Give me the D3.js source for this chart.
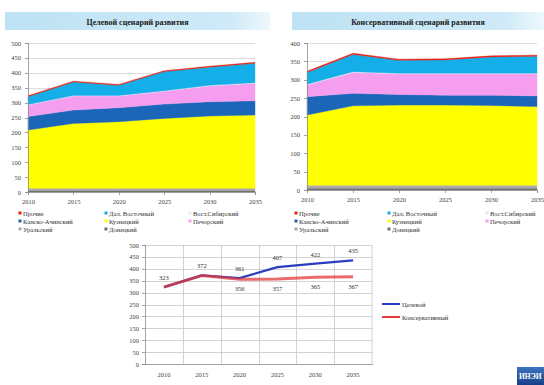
<!DOCTYPE html>
<html lang="ru">
<head>
<meta charset="UTF-8">
<title>Сценарии добычи угля</title>
<style>
  body { margin: 0; background: #fff; }
  svg { display: block; }
  text { font-family: "Liberation Serif", "DejaVu Serif", serif; fill: #333; }
  .axis path, .axis line { stroke: #8c8c8c; stroke-width: 0.8; shape-rendering: crispEdges; }
  .axis text { font-size: 6.5px; fill: #444; }
</style>
</head>
<body>
<script src="https://cdn.jsdelivr.net/npm/d3@7"></script>
<script>

var years = [2010, 2015, 2020, 2025, 2030, 2035];

// series, bottom of the stack first
var seriesNames = ["Донецкий", "Уральский", "Кузнецкий", "Канско-Ачинский",
                   "Печорский", "Вост.Сибирский", "Дал. Восточный", "Прочие"];
var seriesColors = ["#707070", "#a9a9a9", "#ffff00", "#1b66b8",
                    "#f59ef0", "#f1e2f4", "#14aee8", "#e2231a"];
// legend order as in the picture (row by row)
var legendOrder = ["Прочие", "Дал. Восточный", "Вост.Сибирский",
                   "Канско-Ачинский", "Кузнецкий", "Печорский",
                   "Уральский", "Донецкий"];

// target scenario, mln t
var targetDonetsk   = [5, 5, 5, 5, 5, 5];
var targetUral      = [8, 8, 8, 8, 8, 8];
var targetKuzbass   = [195, 217, 223, 234, 242, 245];
var targetKansk     = [45, 45, 47, 48, 48, 48];
var targetPechora   = [39, 47, 39, 43, 53, 59];
var targetEastSib   = [2, 2, 2, 2, 2, 2];
var targetFarEast   = [26, 45, 34, 64, 61, 65];
var targetOther     = [3, 3, 3, 3, 3, 3];

// conservative scenario, mln t
var consDonetsk     = [5, 5, 5, 5, 5, 5];
var consUral        = [8, 8, 8, 8, 8, 8];
var consKuzbass     = [191, 216, 218, 218, 217, 214];
var consKansk       = [50, 34, 29, 27, 28, 29];
var consPechora     = [32, 57, 56, 58, 58, 60];
var consEastSib     = [2, 2, 2, 2, 2, 2];
var consFarEast     = [32, 47, 35, 36, 44, 46];
var consOther       = [3, 3, 3, 3, 3, 3];

// totals for the line chart
var targetTotal     = [323, 372, 361, 407, 422, 435];
var consTotal       = [323, 372, 356, 357, 365, 367];

var targetSeries = [targetDonetsk, targetUral, targetKuzbass, targetKansk,
                    targetPechora, targetEastSib, targetFarEast, targetOther];
var consSeries   = [consDonetsk, consUral, consKuzbass, consKansk,
                    consPechora, consEastSib, consFarEast, consOther];

var width = 544, height = 385;

var svg = d3.select("body").append("svg")
    .attr("width", width)
    .attr("height", height);

var defs = svg.append("defs");
var grad = defs.append("linearGradient").attr("id", "band")
    .attr("x1", "0%").attr("x2", "100%");
grad.append("stop").attr("offset", "0%").attr("stop-color", "#bde2f4");
grad.append("stop").attr("offset", "85%").attr("stop-color", "#cfeaf8");
grad.append("stop").attr("offset", "100%").attr("stop-color", "#eef8fd");

var logoGrad = defs.append("linearGradient").attr("id", "logo")
    .attr("x1", "0%").attr("y1", "0%").attr("x2", "0%").attr("y2", "100%");
logoGrad.append("stop").attr("offset", "0%").attr("stop-color", "#3f73c0");
logoGrad.append("stop").attr("offset", "100%").attr("stop-color", "#143f86");


function titleBand(x0, x1, label) {
    svg.append("rect")
        .attr("x", x0).attr("y", 12)
        .attr("width", x1 - x0).attr("height", 18)
        .attr("fill", "url(#band)");
    svg.append("text")
        .attr("x", (x0 + x1) / 2).attr("y", 24.5)
        .attr("text-anchor", "middle")
        .style("font-size", "8px")
        .style("font-weight", "bold")
        .style("fill", "#1a1a1a")
        .text(label);
}


function areaChart(series, opt) {
    var x = d3.scalePoint().domain(years).range([opt.x0, opt.x1]);
    var y = d3.scaleLinear().domain([0, opt.max]).range([opt.yBottom, opt.yTop]);
    var ticks = d3.range(0, opt.max + 1, 50);

    var g = svg.append("g");

    g.append("g").selectAll("line")
        .data(ticks.slice(1))
        .join("line")
        .attr("x1", opt.x0).attr("x2", opt.x1)
        .attr("y1", function(d) { return Math.round(y(d)) + 0.5; })
        .attr("y2", function(d) { return Math.round(y(d)) + 0.5; })
        .attr("stroke", "#d4d4d4")
        .attr("stroke-width", 0.8);

    var rows = years.map(function(yr, i) {
        var row = { year: yr };
        seriesNames.forEach(function(name, k) { row[name] = series[k][i]; });
        return row;
    });

    var stacked = d3.stack().keys(seriesNames)(rows);

    var area = d3.area()
        .x(function(d) { return x(d.data.year); })
        .y0(function(d) { return y(d[0]); })
        .y1(function(d) { return y(d[1]); });

    g.append("g").selectAll("path")
        .data(stacked)
        .join("path")
        .attr("d", area)
        .attr("fill", function(d, i) { return seriesColors[i]; })
        .attr("stroke", function(d, i) { return seriesColors[i]; })
        .attr("stroke-width", 0.4);

    g.append("g")
        .attr("class", "axis")
        .attr("transform", "translate(" + opt.x0 + ",0)")
        .call(d3.axisLeft(y).tickValues(ticks).tickSize(3).tickPadding(4));

    g.append("g")
        .attr("class", "axis")
        .attr("transform", "translate(0," + opt.yBottom + ")")
        .call(d3.axisBottom(x).tickSize(3).tickPadding(4).tickFormat(d3.format("d")));

    // legend, three columns
    var leg = g.append("g");
    legendOrder.forEach(function(name, i) {
        var col = i % 3, row = Math.floor(i / 3);
        var lx = opt.legendCols[col], ly = 214 + row * 8;
        leg.append("rect")
            .attr("x", lx - 3.5).attr("y", ly - 2.5)
            .attr("width", 3).attr("height", 3)
            .attr("fill", seriesColors[seriesNames.indexOf(name)]);
        leg.append("text")
            .attr("x", lx + 1).attr("y", ly + 2)
            .style("font-size", "6.5px")
            .text(name);
    });
}


titleBand(5, 270, "Целевой сценарий развития");
titleBand(292, 544, "Консервативный сценарий развития");

areaChart(targetSeries, {
    x0: 28, x1: 255, yTop: 43, yBottom: 192, max: 500,
    legendCols: [22, 108, 192]
});

areaChart(consSeries, {
    x0: 307, x1: 537, yTop: 43, yBottom: 190, max: 400,
    legendCols: [298, 391, 489]
});


// line chart of the totals
(function lineChart() {
    var x0 = 145, x1 = 372, yTop = 245, yBottom = 364;
    var x = d3.scaleBand().domain(years).range([x0, x1]);
    var y = d3.scaleLinear().domain([0, 500]).range([yBottom, yTop]);
    var ticks = d3.range(0, 501, 50);
    var cx = function(yr) { return x(yr) + x.bandwidth() / 2; };

    var g = svg.append("g");

    g.append("g").selectAll("line")
        .data(ticks.slice(1))
        .join("line")
        .attr("x1", x0).attr("x2", x1)
        .attr("y1", function(d) { return Math.round(y(d)) + 0.5; })
        .attr("y2", function(d) { return Math.round(y(d)) + 0.5; })
        .attr("stroke", "#c8c8c8")
        .attr("stroke-width", 0.8);

    g.append("g").selectAll("line")
        .data(years.slice(1).concat(["end"]))
        .join("line")
        .attr("x1", function(d) { return d === "end" ? x1 : Math.round(x(d)) + 0.5; })
        .attr("x2", function(d) { return d === "end" ? x1 : Math.round(x(d)) + 0.5; })
        .attr("y1", yTop).attr("y2", yBottom)
        .attr("stroke", "#c8c8c8")
        .attr("stroke-width", 0.8);

    g.append("g")
        .attr("class", "axis")
        .attr("transform", "translate(" + x0 + ",0)")
        .call(d3.axisLeft(y).tickValues(ticks).tickSize(3).tickPadding(3));

    g.append("g")
        .attr("class", "axis")
        .attr("transform", "translate(0," + yBottom + ")")
        .call(d3.axisBottom(x).tickSize(0).tickPadding(8).tickFormat(d3.format("d")));

    var line = d3.line()
        .x(function(d, i) { return cx(years[i]); })
        .y(function(d) { return y(d); });

    g.append("path")
        .datum(targetTotal)
        .attr("d", line)
        .attr("fill", "none")
        .attr("stroke", "#2c3cc0")
        .attr("stroke-width", 2.2);

    g.append("path")
        .datum(consTotal)
        .attr("d", line)
        .attr("fill", "none")
        .attr("stroke", "#e23a3a")
        .attr("stroke-opacity", 0.75)
        .attr("stroke-width", 3);

    g.append("g").selectAll("text")
        .data(targetTotal)
        .join("text")
        .attr("x", function(d, i) { return cx(years[i]); })
        .attr("y", function(d) { return y(d) - 7; })
        .attr("text-anchor", "middle")
        .style("font-size", "6.5px")
        .text(function(d) { return d; });

    // conservative labels only where the two scenarios differ
    var consLabels = years.map(function(yr, i) { return { year: yr, v: consTotal[i], t: targetTotal[i] }; })
        .filter(function(d) { return d.v !== d.t; });

    g.append("g").selectAll("text")
        .data(consLabels)
        .join("text")
        .attr("x", function(d) { return cx(d.year); })
        .attr("y", function(d) { return y(d.v) + 12; })
        .attr("text-anchor", "middle")
        .style("font-size", "6.5px")
        .text(function(d) { return d.v; });

    var legend = [["Целевой", "#2c3cc0"], ["Консервативный", "#e23a3a"]];
    legend.forEach(function(d, i) {
        var ly = 304 + i * 13;
        g.append("line")
            .attr("x1", 382).attr("x2", 400)
            .attr("y1", ly).attr("y2", ly)
            .attr("stroke", d[1])
            .attr("stroke-width", 2);
        g.append("text")
            .attr("x", 402).attr("y", ly + 2.5)
            .style("font-size", "6.5px")
            .text(d[0]);
    });
})();


// institute logo in the corner
svg.append("rect")
    .attr("x", 517).attr("y", 367)
    .attr("width", 27).attr("height", 18)
    .attr("fill", "url(#logo)");
svg.append("text")
    .attr("x", 519).attr("y", 379)
    .style("font-size", "7.5px")
    .style("font-weight", "bold")
    .style("fill", "#fff")
    .text("ИНЭИ");

</script>
</body>
</html>
